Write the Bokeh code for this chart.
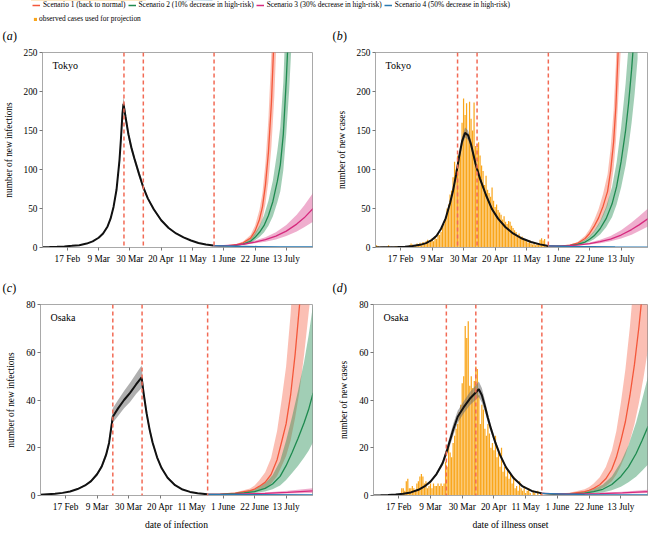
from bokeh.plotting import figure
from bokeh.layouts import column, row
from bokeh.models import Range1d, FixedTicker, Span, Label, Legend, LegendItem
from bokeh.core.properties import value
from bokeh.embed import file_html
from bokeh.resources import INLINE

FONT = "Liberation Serif"

# ---------------- axis / category data ----------------
TICK_DAYS = [47, 68, 89, 110, 131, 152, 173, 194]          # day of year 2020
TICK_LABELS = ["17 Feb", "9 Mar", "30 Mar", "20 Apr", "11 May", "1 June", "22 June", "13 July"]
X_START, X_END = 30.3, 211.6

SCENARIOS = ["Scenario 1 (back to normal)", "Scenario 2 (10% decrease in high-risk)",
             "Scenario 3 (30% decrease in high-risk)", "Scenario 4 (50% decrease in high-risk)"]
OBS_LABEL = "observed cases used for projection"
PANEL_LETTERS = ["a", "b", "c", "d"]

TOKYO_EVENTS = [85, 98, 145.5]
OSAKA_EVENTS = [78.5, 98, 141.7]

# ---------------- observed cases (daily) ----------------
TOKYO_FIRST_DAY = 31
TOKYO_CASES = [3, 2, 0, 1, 0, 1, 0, 1, 3, 0,
               1, 0, 1, 2, 1, 0, 1, 2, 1, 1,
               2, 1, 3, 5, 4, 2, 3, 5, 4, 6,
               3, 7, 5, 8, 10, 6, 9, 12, 8, 14,
               11, 18, 16, 20, 26, 30, 38, 50, 55, 68,
               73, 90, 110, 100, 118, 115, 130, 160, 191, 170,
               185, 140, 187, 165, 150, 186, 130, 128, 135, 118,
               105, 98, 80, 92, 74, 70, 65, 77, 60, 52,
               55, 48, 45, 42, 36, 40, 33, 30, 34, 33,
               28, 25, 22, 20, 15, 18, 12, 14, 10, 11,
               8, 6, 9, 5, 4, 6, 3, 5, 4, 10,
               12, 9, 11, 3, 2]
OSAKA_FIRST_DAY = 49
OSAKA_CASES = [3, 3, 2, 6, 7, 3, 3, 4, 3, 2,
               5, 6, 8, 9, 8, 5, 6, 3, 4, 5,
               3, 5, 4, 4, 5, 4, 5, 4, 5, 14,
               12, 22, 18, 16, 22, 25, 28, 30, 35, 38,
               47, 50, 71, 66, 73, 46, 50, 45, 48, 54,
               53, 42, 30, 38, 36, 28, 25, 30, 26, 20,
               22, 19, 25, 16, 18, 12, 20, 10, 12, 8,
               11, 7, 9, 5, 8, 3, 4, 2, 6, 3,
               2, 4, 1, 2, 3, 1, 0, 2, 1, 0,
               2, 0, 1]

# ---------------- fitted curves (black) ----------------
A_DAYS = [30, 35, 40, 45, 50, 55, 60, 64, 68, 71, 74, 76, 78, 80, 82, 83, 84, 84.7, 86, 88, 90, 92, 95, 98, 101, 105, 110, 115, 120, 125, 130, 135, 140, 145]
A_MID = [0.4, 0.6, 0.9, 1.4, 2.1, 3.0, 5.0, 7.8, 12.5, 18, 27, 37, 52, 74, 112, 140, 172, 184, 168, 145, 128, 114, 95, 77, 63, 49, 35, 25, 18, 13, 9, 5.8, 3.9, 2.5]
A_LO = [0.3, 0.5, 0.8, 1.3, 2.0, 2.8, 4.7, 7.4, 11.9, 17.1, 25.6, 35.1, 49.4, 70.3, 106, 133, 164, 176, 161, 139, 123, 110, 91, 74, 61, 47, 33.6, 24, 17.3, 12.5, 8.6, 5.5, 3.7, 2.3]
A_HI = [0.5, 0.7, 1.0, 1.5, 2.2, 3.2, 5.3, 8.2, 13.1, 18.9, 28.4, 38.9, 54.6, 77.7, 118, 147, 181, 193, 176, 151, 133, 118, 99, 80, 65, 51, 36.4, 26, 18.7, 13.5, 9.4, 6.1, 4.1, 2.7]

B_DAYS = [30, 35, 40, 45, 50, 55, 60, 64, 68, 71, 74, 77, 80, 82, 84, 86, 88, 90, 92, 94, 97, 100, 104, 108, 112, 117, 122, 128, 134, 140, 145.5]
B_MID = [0.1, 0.2, 0.3, 0.5, 0.9, 1.8, 3.4, 5.6, 9.8, 15, 24, 37, 57, 73, 93, 116, 136, 147, 144, 132, 107, 88, 67, 49, 37, 26, 18, 11.5, 7, 4, 2]
B_LO = [0.1, 0.2, 0.3, 0.5, 0.85, 1.7, 3.2, 5.3, 9.3, 14.3, 22.9, 35.4, 54.5, 69.8, 89, 111, 130, 141, 138, 127, 103, 84.5, 64.3, 47, 35.5, 25, 17.3, 11, 6.7, 3.8, 1.9]
B_HI = [0.1, 0.2, 0.3, 0.5, 0.95, 1.9, 3.6, 5.9, 10.3, 15.7, 25.1, 38.6, 59.5, 76.2, 97, 121, 142, 154, 150, 137, 111, 91.5, 69.7, 51, 38.5, 27, 18.7, 12, 7.3, 4.2, 2.1]

C_DAYS = [30, 35, 40, 45, 50, 55, 60, 64, 68, 71, 74, 76, 78.5, 82, 86, 90, 94, 97.7, 99, 101, 103, 105, 108, 111, 115, 120, 125, 130, 135, 141.5]
C_MID = [0.3, 0.5, 0.7, 1.1, 1.7, 2.7, 4.2, 6.0, 8.9, 12, 17, 22, 33, 36.5, 40, 43, 46.5, 49.5, 43, 34.5, 27.7, 22.2, 16, 11.5, 7.4, 4.3, 2.5, 1.5, 0.9, 0.5]
C_LO = [0.28, 0.47, 0.66, 1.03, 1.6, 2.5, 3.9, 5.6, 8.3, 11.2, 15.8, 20.5, 30.5, 33.3, 36.5, 39.2, 42.5, 45, 40.5, 32.6, 26.2, 21, 15.2, 10.9, 7.0, 4.1, 2.4, 1.4, 0.85, 0.47]
C_HI = [0.32, 0.53, 0.74, 1.17, 1.8, 2.9, 4.5, 6.4, 9.5, 12.8, 18.2, 23.5, 36.5, 40, 43.8, 47.2, 51, 54.5, 45.5, 36.4, 29.2, 23.4, 16.8, 12.1, 7.8, 4.5, 2.6, 1.6, 0.95, 0.53]

D_DAYS = [30, 35, 40, 45, 50, 55, 60, 64, 68, 72, 76, 79, 83, 86, 90, 94, 97, 100, 102, 104, 106, 108, 111, 114, 118, 123, 129, 135, 141.7]
D_MID = [0.05, 0.1, 0.2, 0.4, 0.7, 1.3, 2.4, 3.8, 5.8, 9, 13.5, 19, 27.5, 33, 37, 40.5, 42.5, 44.5, 42, 37.5, 32.5, 28, 22, 17, 11.8, 7.3, 3.8, 1.9, 0.9]
D_LO = [0.05, 0.1, 0.2, 0.4, 0.65, 1.2, 2.2, 3.5, 5.4, 8.4, 12.4, 17.2, 25, 30.5, 34.5, 37.8, 39.6, 41.3, 39, 35, 30.5, 26.5, 20.8, 16.1, 11.2, 6.9, 3.6, 1.8, 0.85]
D_HI = [0.05, 0.1, 0.2, 0.4, 0.75, 1.4, 2.6, 4.1, 6.2, 9.6, 14.6, 20.8, 30, 35.5, 39.5, 43.2, 45.4, 47.7, 45, 40, 34.5, 29.5, 23.2, 17.9, 12.4, 7.7, 4.0, 2.0, 0.95]

# ---------------- projections: (days, mid, low, high) per scenario ----------------
A_S1 = ([145, 150, 155, 160, 165, 170, 173, 176, 178, 180, 182, 184, 186, 188],
        [2.5, 2.1, 2.4, 3.5, 6, 12, 21, 36, 52, 80, 122, 185, 280, 420],
        [2.5, 2.0, 2.1, 2.9, 4.6, 8.8, 15, 25.5, 36.5, 56, 85, 129, 195, 295],
        [2.5, 2.2, 2.7, 4.2, 7.6, 16, 28, 48.5, 70, 108, 165, 250, 378, 567])
A_S2 = ([145, 150, 155, 160, 165, 170, 173, 176, 179, 182, 185, 188, 190, 192, 194, 196, 198],
        [2.5, 2.0, 2.1, 2.7, 4.2, 8.0, 13, 19.5, 28, 41, 59, 85, 106, 145, 215, 300, 410],
        [2.5, 1.9, 1.9, 2.3, 3.3, 5.8, 9.2, 13.5, 19.2, 28, 40, 58, 72, 99, 146, 204, 279],
        [2.5, 2.1, 2.3, 3.1, 5.3, 11, 18.5, 28, 41, 60, 86, 124, 155, 212, 313, 438, 600])
A_S3 = ([145, 152, 159, 166, 173, 180, 187, 194, 201, 206, 212],
        [2.5, 2.3, 3.0, 4.5, 7.0, 10, 14.5, 21, 30, 38, 50],
        [2.5, 2.1, 2.5, 3.6, 5.3, 7.4, 10.4, 14.7, 20.5, 26, 33],
        [2.5, 2.5, 3.5, 5.5, 8.9, 13.2, 19.5, 29, 42, 54, 70])
A_S4 = ([145, 160, 175, 190, 212], [2.5, 1.6, 1.2, 0.9, 0.7], [2.5, 1.4, 1.0, 0.7, 0.5], [2.5, 1.8, 1.4, 1.1, 0.9])

B_S1 = ([145.5, 150, 155, 160, 165, 170, 173, 176, 179, 182, 185, 187, 189, 190.5, 192, 194],
        [2, 1.8, 2.0, 3.0, 5.5, 11.5, 18, 27, 38, 53, 72, 98, 135, 180, 250, 350],
        [2, 1.7, 1.8, 2.4, 4.2, 8.6, 13.5, 20, 28.5, 40, 54, 73, 101, 135, 187, 262],
        [2, 1.9, 2.2, 3.7, 7.0, 15, 23.5, 35, 49.5, 69, 94, 127, 175, 234, 325, 455])
B_S2 = ([145.5, 150, 155, 160, 165, 170, 173, 176, 180, 184, 188, 191, 194, 197, 199, 201, 203, 205],
        [2, 1.8, 1.9, 2.5, 4.0, 7.0, 10.5, 15, 24, 37, 56, 78, 110, 150, 185, 228, 280, 345],
        [2, 1.7, 1.7, 2.0, 3.0, 5.0, 7.4, 10.5, 16.8, 26, 39, 55, 77, 105, 130, 160, 196, 242],
        [2, 1.9, 2.1, 3.1, 5.4, 9.8, 14.7, 21, 33.6, 52, 78, 109, 154, 210, 259, 319, 392, 483])
B_S3 = ([145.5, 152, 159, 166, 173, 180, 187, 194, 201, 206, 212],
        [2, 1.8, 2.3, 3.3, 5.0, 7.4, 10.8, 16, 23, 29, 37],
        [2, 1.7, 2.0, 2.7, 3.9, 5.6, 8.0, 11.6, 16.5, 21, 27],
        [2, 1.9, 2.6, 4.0, 6.4, 9.8, 14.6, 22, 32, 40, 50])
B_S4 = ([145.5, 160, 175, 190, 212], [2, 1.3, 1.0, 0.8, 0.6], [2, 1.1, 0.8, 0.6, 0.4], [2, 1.5, 1.2, 1.0, 0.8])

C_S1 = ([141.5, 150, 160, 170, 173, 176, 180, 184, 188, 191, 194, 197, 200, 203, 206, 210],
        [0.5, 0.6, 1.0, 2.0, 2.7, 3.8, 5.5, 8.8, 15, 22.4, 30, 42, 59, 80, 108, 150],
        [0.5, 0.55, 0.8, 1.3, 1.65, 2.2, 3.1, 4.9, 8.2, 12.3, 16.5, 23, 32.5, 44, 59, 82],
        [0.5, 0.66, 1.25, 2.9, 4.2, 6.3, 9.6, 15.7, 27, 40, 54, 76, 106, 144, 194, 270])
C_S2 = ([141.5, 150, 160, 166, 173, 180, 185, 190, 194, 198, 202, 206, 209, 212],
        [0.5, 0.5, 0.8, 1.1, 1.6, 3.0, 4.8, 8.0, 12.5, 18, 24, 30.5, 36, 43],
        [0.5, 0.45, 0.6, 0.75, 1.0, 1.7, 2.6, 4.2, 6.5, 9.4, 12.5, 15.9, 18.7, 22.4],
        [0.5, 0.58, 1.05, 1.6, 2.5, 5.1, 8.5, 14.5, 23, 33, 44, 56, 67, 80])
C_S3 = ([141.5, 160, 180, 195, 212], [0.5, 0.6, 0.9, 1.3, 1.9], [0.5, 0.45, 0.6, 0.8, 1.1], [0.5, 0.8, 1.3, 2.0, 3.0])
C_S4 = ([141.5, 170, 212], [0.5, 0.35, 0.25], [0.5, 0.25, 0.15], [0.5, 0.45, 0.35])

D_S1 = ([141.7, 150, 160, 170, 173, 176, 180, 184, 188, 191, 194, 197, 200, 203, 206, 209, 212],
        [0.9, 0.6, 0.8, 1.6, 2.2, 3.0, 4.5, 7.0, 11, 16, 23, 31, 42, 55, 71, 90, 112],
        [0.9, 0.5, 0.55, 0.95, 1.25, 1.7, 2.5, 3.9, 6.0, 8.8, 12.6, 17, 23, 30, 39, 49.5, 61.6],
        [0.9, 0.7, 1.15, 2.6, 3.6, 5.0, 7.6, 11.9, 18.7, 27, 39, 53, 71, 93, 121, 153, 190])
D_S2 = ([141.7, 150, 160, 170, 176, 182, 188, 194, 199, 204, 208, 212],
        [0.9, 0.5, 0.6, 1.0, 1.6, 2.6, 4.6, 8.0, 12, 17.5, 23, 29],
        [0.9, 0.45, 0.45, 0.6, 0.85, 1.3, 2.2, 3.7, 5.5, 7.9, 10.4, 13],
        [0.9, 0.6, 0.85, 1.6, 2.7, 4.5, 8.0, 14, 21, 30.5, 40, 50])
D_S3 = ([141.7, 160, 180, 195, 212], [0.9, 0.55, 0.8, 1.1, 1.6], [0.9, 0.4, 0.55, 0.7, 1.0], [0.9, 0.7, 1.1, 1.6, 2.4])
D_S4 = ([141.7, 170, 212], [0.9, 0.35, 0.25], [0.9, 0.25, 0.15], [0.9, 0.45, 0.35])

# ---------------- styles ----------------
SC_COLORS = ["#f4573a", "#1e8a4f", "#d62a7e", "#2a7ab3"]
SC_ALPHA = [0.38, 0.42, 0.38, 0.3]
ORANGE = "#f9a61c"
DASH_COLOR = "#f26a55"
FRAME_GREY = "#a9a9a9"
PAGE_W = 649
COL_X = [2, 332]          # left edge (px) of panel letters in the two columns


def make_panel(city, ylabel, xlabel, ymax, yticks, events, fit, projections,
               bars=None, width=333, height=225, bl=40, br=21, bt=7, bb=23):
    p = figure(width=width, height=height, x_range=Range1d(X_START, X_END),
               y_range=Range1d(0, ymax), toolbar_location=None, output_backend="svg",
               min_border_left=bl, min_border_right=br, min_border_top=bt,
               min_border_bottom=bb)
    p.grid.visible = False
    p.outline_line_color = FRAME_GREY
    p.outline_line_width = 1
    p.background_fill_color = "white"
    p.border_fill_color = "white"

    p.xaxis.ticker = FixedTicker(ticks=TICK_DAYS)
    p.xaxis.major_label_overrides = {d: s for d, s in zip(TICK_DAYS, TICK_LABELS)}
    p.yaxis.ticker = FixedTicker(ticks=yticks)
    for ax in p.axis:
        ax.major_label_text_font = FONT
        ax.major_label_text_font_size = "9.3px"
        ax.major_label_text_color = "black"
        ax.axis_label_text_font = FONT
        ax.axis_label_text_font_style = "normal"
        ax.axis_label_text_color = "black"
        ax.axis_line_color = FRAME_GREY
        ax.major_tick_line_color = "#777777"
        ax.major_tick_out = 3
        ax.major_tick_in = 0
        ax.minor_tick_line_color = None
        ax.major_label_standoff = 2
        ax.axis_label_standoff = 7
    p.xaxis.major_label_standoff = 3
    p.yaxis.axis_label = ylabel
    p.yaxis.axis_label_text_font_size = "9.3px"
    if xlabel:
        p.xaxis.axis_label = xlabel
        p.xaxis.axis_label_text_font_size = "9.6px"
        p.xaxis.axis_label_standoff = 4

    if bars is not None:
        first, vals = bars
        days = list(range(first, first + len(vals)))
        p.vbar(x=days, top=vals, width=0.82, fill_color=ORANGE, line_color=None)

    fd, fm, flo, fhi = fit
    p.varea(x=fd, y1=flo, y2=fhi, fill_color="#6e6e6e", fill_alpha=0.55)
    p.line(fd, fm, line_color="#111111", line_width=2)

    for (pd_, pm, plo, phi), c, a in zip(projections, SC_COLORS, SC_ALPHA):
        p.varea(x=pd_, y1=plo, y2=phi, fill_color=c, fill_alpha=a)
    for (pd_, pm, plo, phi), c in zip(projections, SC_COLORS):
        p.line(pd_, pm, line_color=c, line_width=1.3)

    for d in events:
        p.add_layout(Span(location=d, dimension="height", line_color=DASH_COLOR,
                          line_dash="4 3", line_width=1.5))

    p.add_layout(Label(x=X_START, y=ymax, x_offset=10, y_offset=-13, text=city,
                       text_font=FONT, text_font_size="10px", text_baseline="middle",
                       text_align="left", text_color="black"))
    return p


def strip(height):
    """A plain strip whose data units equal pixels (y measured from the top)."""
    s = figure(width=PAGE_W, height=height, x_range=Range1d(0, PAGE_W), y_range=Range1d(height, 0),
               toolbar_location=None, output_backend="svg", min_border=0,
               x_axis_location=None, y_axis_location=None)
    s.grid.visible = False
    s.outline_line_color = None
    return s


def add_letters(s, letters, y):
    for x0, letter in zip(COL_X, letters):
        common = dict(y=y, text_font=FONT, text_font_size="12px", text_baseline="middle",
                      text_align="left", text_color="black")
        s.add_layout(Label(x=x0, text="(", **common))
        s.add_layout(Label(x=x0 + 4.2, text=letter, text_font_style="italic", **common))
        s.add_layout(Label(x=x0 + 4.2 + (5.6 if letter == "c" else 6.3), text=")", **common))


pa = make_panel("Tokyo", "number of new infections", None, 250, [0, 50, 100, 150, 200, 250],
                TOKYO_EVENTS, (A_DAYS, A_MID, A_LO, A_HI), [A_S1, A_S2, A_S3, A_S4],
                width=333, bl=40, br=21)
pb = make_panel("Tokyo", "number of new cases", None, 250, [0, 50, 100, 150, 200, 250],
                TOKYO_EVENTS, (B_DAYS, B_MID, B_LO, B_HI), [B_S1, B_S2, B_S3, B_S4],
                bars=(TOKYO_FIRST_DAY, TOKYO_CASES), width=316, bl=40, br=2)
pc = make_panel("Osaka", "number of new infections", "date of infection", 80, [0, 20, 40, 60, 80],
                OSAKA_EVENTS, (C_DAYS, C_MID, C_LO, C_HI), [C_S1, C_S2, C_S3, C_S4],
                width=333, height=236, bl=40, br=21, bt=8, bb=32)
pd = make_panel("Osaka", "number of new cases", "date of illness onset", 80, [0, 20, 40, 60, 80],
                OSAKA_EVENTS, (D_DAYS, D_MID, D_LO, D_HI), [D_S1, D_S2, D_S3, D_S4],
                bars=(OSAKA_FIRST_DAY, OSAKA_CASES), width=316, height=236, bl=40, br=2, bt=8, bb=32)

# ---------------- header strip: legend + (a)/(b) ----------------
# swatch renderers are drawn with negated values so they fall outside the strip's ranges
head = strip(45)
line_rs = [head.line(s[0], [-v for v in s[1]], line_color=c, line_width=1.5)
           for s, c in zip([A_S1, A_S2, A_S3, A_S4], SC_COLORS)]
bar_r = head.vbar(x=list(range(TOKYO_FIRST_DAY, TOKYO_FIRST_DAY + len(TOKYO_CASES))),
                  bottom=[-1 - v for v in TOKYO_CASES], top=[-v for v in TOKYO_CASES],
                  width=1, fill_color=ORANGE, line_color=None)

lcommon = dict(orientation="horizontal", padding=0, margin=0, spacing=2,
               label_height=8, border_line_color=None,
               background_fill_alpha=0, label_text_font=FONT,
               label_text_font_size="7.4px", label_text_color="black")
leg1 = Legend(items=[LegendItem(label=value(s), renderers=[r]) for s, r in zip(SCENARIOS, line_rs)],
              location=(32, 36), glyph_width=8, glyph_height=8, label_standoff=3, **lcommon)
leg2 = Legend(items=[LegendItem(label=value(OBS_LABEL), renderers=[bar_r])],
              location=(33, 22), glyph_width=4, glyph_height=4, label_standoff=2, **lcommon)
head.add_layout(leg1)
head.add_layout(leg2)
add_letters(head, PANEL_LETTERS[:2], 35)

# ---------------- middle strip: (c)/(d) ----------------
mid = strip(26)
add_letters(mid, PANEL_LETTERS[2:], 17)

layout = column(head, row(pa, pb), mid, row(pc, pd))
open("out.html", "w").write(file_html(layout, INLINE))
